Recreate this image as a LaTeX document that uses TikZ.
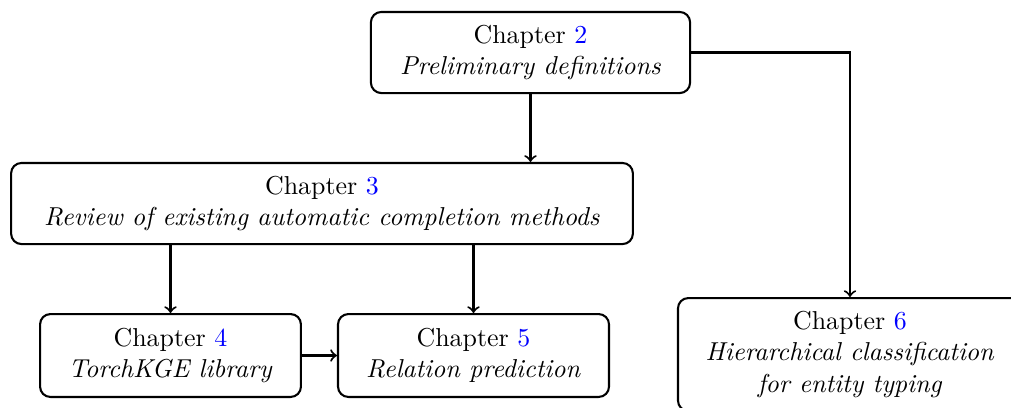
\documentclass[tikz,border=0pt]{standalone}
\usetikzlibrary{arrows}
\begin{document}
\begin{tikzpicture}[x=0.386pt,y=-0.386pt,
  chap/.style={draw,thick,rounded corners=4pt,align=center,inner sep=0pt},
  conn/.style={thick,->}]
\useasboundingbox (0,0) rectangle (1011,407);
\node[chap,minimum width=123.2pt,minimum height=31.3pt] (c2) at (530.5,52.5) {Chapter \textcolor{blue}{2}\\\textit{Preliminary definitions}};
\node[chap,minimum width=240pt,minimum height=31.3pt] (c3) at (322,203.5) {Chapter \textcolor{blue}{3}\\\textit{Review of existing automatic completion methods}};
\node[chap,minimum width=100.7pt,minimum height=32pt] (c4) at (170.5,355.5) {Chapter \textcolor{blue}{4}\\\textit{TorchKGE library}};
\node[chap,minimum width=104.6pt,minimum height=32pt] (c5) at (473.5,355.5) {Chapter \textcolor{blue}{5}\\\textit{Relation prediction}};
\node[chap,minimum width=132.8pt,minimum height=43.6pt] (c6) at (850,354.5) {Chapter \textcolor{blue}{6}\\\textit{Hierarchical classification}\\\textit{for entity typing}};
\draw[conn] (c2.south) -- (c2.south |- c3.north);
\draw[conn] (c2.east) -| (c6.north);
\draw[conn] (c4.north |- c3.south) -- (c4.north);
\draw[conn] (c5.north |- c3.south) -- (c5.north);
\draw[conn] (c4.east) -- (c5.west);
\end{tikzpicture}
\end{document}
